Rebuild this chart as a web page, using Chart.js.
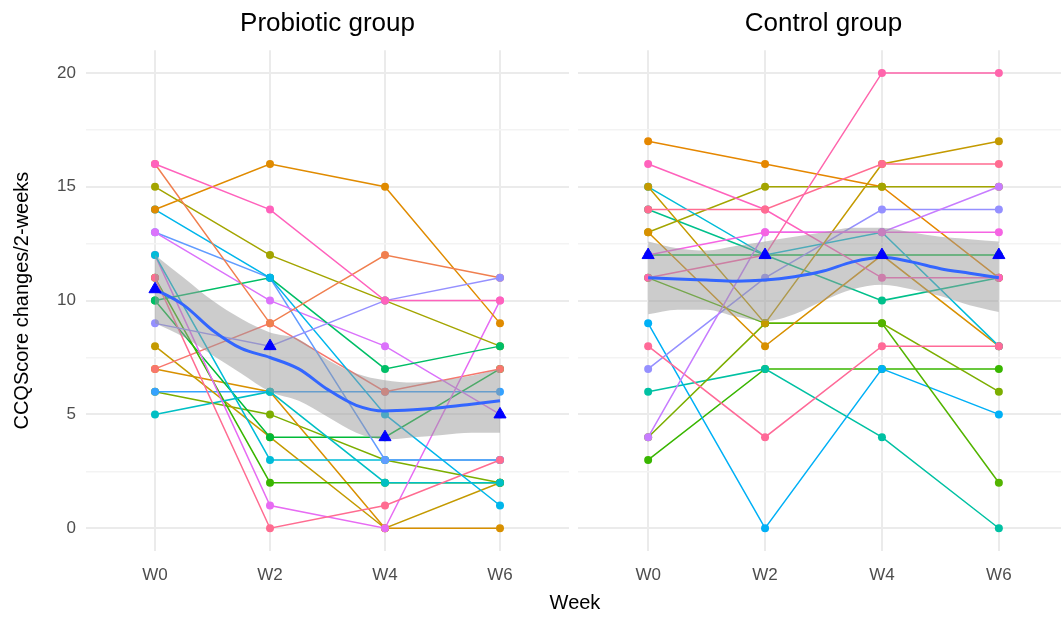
<!DOCTYPE html>
<html>
<head>
<meta charset="utf-8">
<script src="https://cdn.jsdelivr.net/npm/chart.js@4.4.1/dist/chart.umd.min.js"></script>
<style>
html, body { margin: 0; padding: 0; background: #fff; overflow: hidden; }
#wrap { position: relative; width: 1061px; height: 617px; overflow: hidden; }
#c1 { position: absolute; left: 0; top: 0; }
#c2 { position: absolute; left: 578px; top: 0; }
#week { position: absolute; left: 475px; width: 200px; top: 591px; text-align: center;
        font: 20px "Liberation Sans", Arial, sans-serif; color: #000; }
</style>
</head>
<body>
<div id="wrap">
  <canvas id="c1" width="569" height="617"></canvas>
  <canvas id="c2" width="491" height="617"></canvas>
  <div id="week">Week</div>
</div>
<script>
// ---- data ----
var weeks = ['W0', 'W2', 'W4', 'W6'];
var weekPos = [0, 1, 2, 3];
var yTicks = [0, 2.5, 5, 7.5, 10, 12.5, 15, 17.5, 20];

// one row per subject: W0, W2, W4, W6
var probioticScores = [
    [16, 14, 10, 10],
    [9, 8, 10, 11],
    [16, 9, 12, 11],
    [14, 16, 15, 9],
    [14, 11, 5, 1],
    [11, 0, 1, 3],
    [10, 11, 7, 8],
    [15, 12, 10, 8],
    [13, 10, 8, 5],
    [13, 11, 3, 3],
    [12, 3, 3, 3],
    [12, 1, 0, 10],
    [5, 6, 2, 2],
    [11, 2, 2, 2],
    [7, 9, 6, 7],
    [10, 4, 4, 7],
    [8, 4, 0, 2],
    [6, 6, 6, 6],
    [7, 6, 0, 0],
    [6, 5, 3, 2]
];
var probioticColors = ['#FF62BC', '#9590FF', '#F07F4F', '#E08B00', '#00B6EB', '#FF6C91', '#00BE67',
    '#A3A500', '#DB72FB', '#619CFF', '#00BCD8', '#E76BF3', '#00BFC4', '#39B600', '#F8766D',
    '#00BA38', '#C49A00', '#35A2FF', '#D89000', '#7CAE00'];

var controlScores = [
    [11, 12, 20, 20],
    [12, 13, 13, 13],
    [4, 13, 13, 15],
    [14, 14, 16, 16],
    [15, 9, 16, 17],
    [16, 14, 11, 11],
    [8, 4, 8, 8],
    [15, 12, 13, 8],
    [13, 8, 12, 8],
    [13, 15, 15, 15],
    [17, 16, 15, 11],
    [14, 12, 10, 11],
    [7, 11, 14, 14],
    [11, 9, 9, 2],
    [4, 9, 9, 6],
    [9, 0, 7, 5],
    [6, 7, 4, 0],
    [3, 7, 7, 7],
    [12, 12, 12, 12]
];
var controlColors = ['#FF65AC', '#F564E3', '#C77CFF', '#FF6C91', '#C49A00', '#FF62BC', '#FF6A98',
    '#00BCD8', '#D89000', '#A3A500', '#E58700', '#00C08B', '#9590FF', '#53B400', '#7CAE00',
    '#00B0F6', '#00C1A3', '#39B600', '#00BA38'];

var probioticMeans = [10.5, 8, 4, 5];
var controlMeans = [12, 12, 12, 12];

// smoother
var smoothX = [0, 0.25, 0.5, 0.75, 1, 1.25, 1.5, 1.75, 2, 2.25, 2.5, 2.75, 3];
var probioticSmooth = [10.5, 9.8, 8.7, 7.9, 7.5, 7.0, 6.1, 5.4, 5.15, 5.2, 5.3, 5.45, 5.6];
var probioticLow = [9.0, 8.4, 7.6, 6.8, 6.0, 5.6, 4.9, 4.2, 3.9, 4.0, 4.1, 4.2, 4.2];
var probioticHigh = [12.0, 11.0, 10.0, 9.2, 8.6, 8.3, 7.4, 6.8, 6.5, 6.4, 6.5, 6.7, 7.0];
var controlSmooth = [11.0, 10.95, 10.9, 10.85, 10.9, 11.05, 11.3, 11.7, 11.9, 11.7, 11.4, 11.2, 11.0];
var controlLow = [9.4, 9.6, 9.6, 9.3, 9.1, 9.4, 10.0, 10.5, 10.7, 10.5, 10.2, 9.8, 9.5];
var controlHigh = [12.6, 12.3, 12.2, 12.4, 12.6, 12.8, 13.0, 13.2, 13.2, 13.0, 12.8, 12.7, 12.6];

var FONT = '"Liberation Sans", Arial, sans-serif';

function toPoints(xs, ys) {
    return xs.map(function (x, i) { return { x: x, y: ys[i] }; });
}

function makeChart(id, title, scores, colors, means, smooth, low, high, showY) {
    var datasets = [
        { data: toPoints(smoothX, low), borderWidth: 0, pointRadius: 0, fill: false, order: 3,
          cubicInterpolationMode: 'monotone' },
        { data: toPoints(smoothX, high), borderWidth: 0, pointRadius: 0, fill: '-1',
          backgroundColor: 'rgba(153,153,153,0.5)', order: 2, cubicInterpolationMode: 'monotone' },
        { data: toPoints(smoothX, smooth), borderColor: '#3366FF', borderWidth: 3, pointRadius: 0,
          fill: false, order: 1, cubicInterpolationMode: 'monotone' },
        { data: toPoints(weekPos, means), showLine: false, pointStyle: 'triangle', pointRadius: 7,
          pointBackgroundColor: '#0000FF', pointBorderColor: '#0000FF', order: 0 }
    ];
    scores.forEach(function (s, i) {
        datasets.push({
            data: toPoints(weekPos, s),
            borderColor: colors[i],
            backgroundColor: colors[i],
            pointBackgroundColor: colors[i],
            pointBorderWidth: 0,
            pointRadius: 4,
            borderWidth: 1.5,
            fill: false,
            order: 10
        });
    });

    return new Chart(document.getElementById(id), {
        type: 'line',
        data: { datasets: datasets },
        options: {
            responsive: false,
            animation: false,
            layout: { padding: 0, autoPadding: false },
            plugins: {
                legend: { display: false },
                tooltip: { enabled: false },
                title: {
                    display: true, text: title, fullSize: false, color: '#000',
                    font: { family: FONT, size: 26, weight: 'normal' },
                    padding: { top: 8, bottom: 11 }
                }
            },
            scales: {
                x: {
                    type: 'linear', min: -0.6, max: 3.6,
                    afterBuildTicks: function (s) { s.ticks = weekPos.map(function (v) { return { value: v }; }); },
                    afterFit: function (s) { s.height = 66; s.paddingLeft = 0; s.paddingRight = 0; },
                    ticks: {
                        callback: function (v) { return weeks[v]; },
                        font: { family: FONT, size: 17 }, color: '#4D4D4D', padding: 14, maxRotation: 0
                    },
                    grid: { color: '#EBEBEB', lineWidth: 2, drawTicks: false },
                    border: { display: false }
                },
                y: {
                    min: -1, max: 21,
                    afterBuildTicks: function (s) { s.ticks = yTicks.map(function (v) { return { value: v }; }); },
                    afterFit: function (s) { s.width = showY ? 86 : 0; s.paddingTop = 0; s.paddingBottom = 0; },
                    ticks: {
                        display: showY,
                        callback: function (v) { return v % 5 === 0 ? v : ''; },
                        font: { family: FONT, size: 17 }, color: '#4D4D4D', padding: 10
                    },
                    title: {
                        display: showY, text: 'CCQScore changes/2-weeks', color: '#000',
                        font: { family: FONT, size: 20 }, padding: { top: 10, bottom: 0 }
                    },
                    grid: {
                        drawTicks: false,
                        color: function (c) { return c.tick && c.tick.value % 5 === 0 ? '#EBEBEB' : '#F3F3F3'; },
                        lineWidth: function (c) { return c.tick && c.tick.value % 5 === 0 ? 2 : 1.5; }
                    },
                    border: { display: false }
                }
            }
        }
    });
}

makeChart('c1', 'Probiotic group', probioticScores, probioticColors,
    probioticMeans, probioticSmooth, probioticLow, probioticHigh, true);
makeChart('c2', 'Control group', controlScores, controlColors,
    controlMeans, controlSmooth, controlLow, controlHigh, false);
</script>
</body>
</html>
